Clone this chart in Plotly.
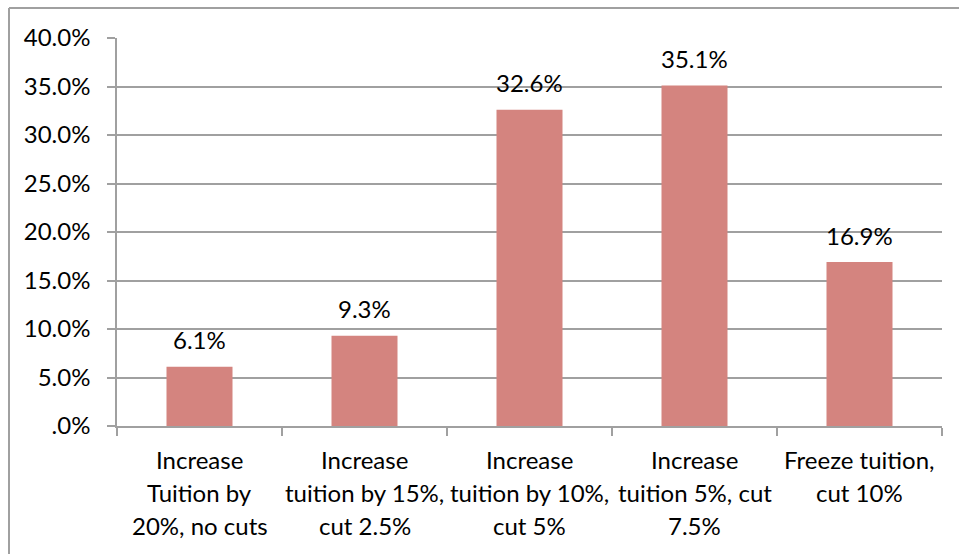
import plotly.graph_objects as go

categories = [
    "Increase<br>Tuition by<br>20%, no cuts",
    "Increase<br>tuition by 15%,<br>cut 2.5%",
    "Increase<br>tuition by 10%,<br>cut 5%",
    "Increase<br>tuition 5%, cut<br>7.5%",
    "Freeze tuition,<br>cut 10%",
]
values = [6.1, 9.3, 32.6, 35.1, 16.9]
value_labels = ["6.1%", "9.3%", "32.6%", "35.1%", "16.9%"]
y_tickvals = [0, 5, 10, 15, 20, 25, 30, 35, 40]
y_ticktext = [".0%", "5.0%", "10.0%", "15.0%", "20.0%", "25.0%", "30.0%", "35.0%", "40.0%"]

W, H = 959, 554
ML, MR, MT, MB = 117, 17, 38, 128
FONT = "Lato"
FS = 24
GRID = "#A0A0A0"
BAR = "#D4847F"

fig = go.Figure(go.Bar(
    x=categories, y=values, marker_color=BAR, marker_line_width=0,
    hoverinfo="skip",
))

ann = []
for c, v, t in zip(categories, values, value_labels):
    ann.append(dict(x=c, y=v, xref="x", yref="y", text=t, showarrow=False,
                    yanchor="middle", yshift=27, font=dict(family=FONT, size=FS, color="black")))
for c in categories:
    for i, line in enumerate(c.split("<br>")):
        ann.append(dict(x=c, y=0, xref="x", yref="y", text=line, showarrow=False,
                        yanchor="middle", yshift=-(33 + 33 * i),
                        font=dict(family=FONT, size=FS, color="black")))

pw = W - ML - MR
ph = H - MT - MB
def px_x(p):
    return (p - ML) / pw
def px_y(p):
    return 1 - (p - MT) / ph

shapes = [
    dict(type="line", xref="paper", yref="paper", x0=px_x(9), x1=px_x(W + 5),
         y0=px_y(8), y1=px_y(8), line=dict(color=GRID, width=2)),
    dict(type="line", xref="paper", yref="paper", x0=px_x(9), x1=px_x(9),
         y0=px_y(8), y1=px_y(H + 5), line=dict(color=GRID, width=2)),
]

fig.update_layout(
    width=W, height=H,
    margin=dict(l=ML, r=MR, t=MT, b=MB, pad=0),
    paper_bgcolor="white", plot_bgcolor="white",
    bargap=0.6, showlegend=False,
    font=dict(family=FONT, size=FS, color="black"),
    annotations=ann, shapes=shapes,
)
fig.update_xaxes(
    type="category", showticklabels=False, showline=True, linecolor=GRID, linewidth=1.5,
    ticks="outside", tickson="boundaries", ticklen=8, tickcolor=GRID, tickwidth=1.5,
    showgrid=False, fixedrange=True,
)
fig.update_yaxes(
    range=[0, 40], tickvals=y_tickvals, ticktext=y_ticktext,
    showline=True, linecolor=GRID, linewidth=1.5,
    ticks="outside", ticklen=8, tickcolor=GRID, tickwidth=1.5,
    showgrid=True, gridcolor=GRID, gridwidth=1.5, zeroline=False,
    ticklabelstandoff=12, tickfont=dict(family=FONT, size=FS, color="black"),
    fixedrange=True,
)

fig.write_html("out.html", config={"displayModeBar": False})
